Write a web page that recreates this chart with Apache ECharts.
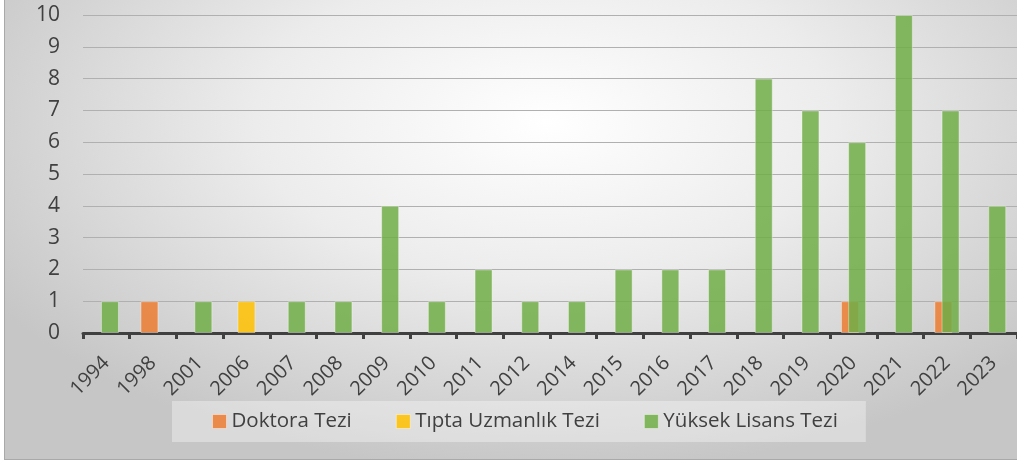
<!DOCTYPE html>
<html><head><meta charset="utf-8">
<script src="https://cdn.jsdelivr.net/npm/echarts@6/dist/echarts.min.js"></script>
<style>
html,body{margin:0;padding:0;background:#fff;width:1017px;height:465px;overflow:hidden;}
#bg{position:absolute;left:4px;top:-10px;width:1040px;height:468px;border:1px solid #a9a9a9;
background:radial-gradient(ellipse 62% 75% at 52% 28%, #ffffff 0%, #ececec 45%, #c6c6c6 100%);}
#chart{position:absolute;left:0;top:0;width:1017px;height:465px;}
</style></head>
<body>
<div id="bg"></div>
<div id="chart"></div>
<script>
const categories = ['1994','1998','2001','2006','2007','2008','2009','2010','2011','2012','2014','2015','2016','2017','2018','2019','2020','2021','2022','2023'];
const doktora = [null,1,null,null,null,null,null,null,null,null,null,null,null,null,null,null,1,null,1,null];
const tipta = [null,null,null,1,null,null,null,null,null,null,null,null,null,null,null,null,null,null,null,null];
const yuksekLisans = [1,null,1,null,1,1,4,1,2,1,1,2,2,2,8,7,6,10,7,4];
const yTicks = [0,1,2,3,4,5,6,7,8,9,10];

const FONT = '"Open Sans", "Noto Sans", sans-serif';
const chart = echarts.init(document.getElementById('chart'), null, {renderer:'canvas'});
const barCommon = {
  type:'bar', barWidth:18, barGap:'-80%',
  itemStyle:{opacity:0.85, borderColor:'rgba(255,255,255,0.45)', borderWidth:1}
};
chart.setOption({
  animation:false,
  backgroundColor:'transparent',
  grid:{left:83, right:0, top:15, bottom:132, containLabel:false},
  legend:{
    bottom:23, left:172, itemWidth:14, itemHeight:14, itemGap:44,
    icon:'rect',
    itemStyle:{borderColor:'rgba(255,255,255,0.5)', borderWidth:1},
    textStyle:{fontFamily:FONT, fontSize:20.5, color:'#404040'},
    backgroundColor:'rgba(255,255,255,0.35)',
    padding:[10,28,10,40],
    data:['Doktora Tezi','Tıpta Uzmanlık Tezi','Yüksek Lisans Tezi']
  },
  xAxis:{
    type:'category', data:categories, boundaryGap:true,
    axisLine:{lineStyle:{color:'#404040', width:3}},
    axisTick:{show:true, length:6, lineStyle:{color:'#404040', width:3}},
    axisLabel:{rotate:45, margin:27, fontFamily:FONT, fontSize:20, color:'#404040', interval:0}
  },
  yAxis:{
    type:'value', min:yTicks[0], max:yTicks[yTicks.length-1], interval:1,
    axisLine:{show:false}, axisTick:{show:false},
    axisLabel:{margin:23, fontFamily:FONT, fontSize:21, color:'#404040'},
    splitLine:{lineStyle:{color:'#b0b0b0', width:1}}
  },
  series:[
    Object.assign({}, barCommon, {name:'Doktora Tezi', data:doktora, itemStyle:Object.assign({}, barCommon.itemStyle, {color:'#ED7D31'})}),
    Object.assign({}, barCommon, {name:'Tıpta Uzmanlık Tezi', data:tipta, itemStyle:Object.assign({}, barCommon.itemStyle, {color:'#FFC000'})}),
    Object.assign({}, barCommon, {name:'Yüksek Lisans Tezi', data:yuksekLisans, itemStyle:Object.assign({}, barCommon.itemStyle, {color:'#70AD47'})})
  ]
});
</script>
</body></html>
